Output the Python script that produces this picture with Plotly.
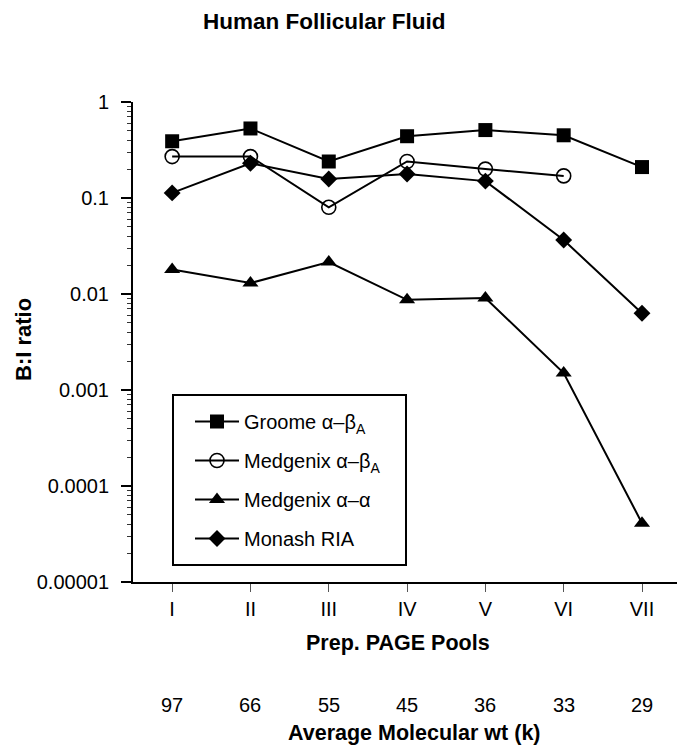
import plotly.graph_objects as go

pools = ["I", "II", "III", "IV", "V", "VI", "VII"]
mol_wt = ["97", "66", "55", "45", "36", "33", "29"]

groome_ab = [0.39, 0.53, 0.24, 0.44, 0.51, 0.45, 0.21]
medgenix_ab = [0.27, 0.27, 0.08, 0.24, 0.20, 0.17, None]
medgenix_aa = [0.018, 0.013, 0.0215, 0.0087, 0.0091, 0.0015, 0.000041]
monash_ria = [0.113, 0.23, 0.158, 0.178, 0.15, 0.0365, 0.0063]

y_tickvals = [1e-5, 1e-4, 1e-3, 1e-2, 1e-1, 1]
y_ticktext = ["0.00001", "0.0001", "0.001", "0.01", "0.1", "1"]

FONT = "Liberation Sans, Arial, Helvetica, sans-serif"

series = [
    ("Groome α–β<sub>A</sub>", groome_ab, dict(symbol="square", size=14, color="black")),
    ("Medgenix α–β<sub>A</sub>", medgenix_ab,
     dict(symbol="circle-open", size=14, color="black", line=dict(width=1.6, color="black"))),
    ("Medgenix α–α", medgenix_aa, dict(symbol="triangle-up", size=14, color="black")),
    ("Monash RIA", monash_ria, dict(symbol="diamond", size=13, color="black")),
]

fig = go.Figure()
for i, (name, vals, mk) in enumerate(series):
    fig.add_trace(go.Scatter(
        x=pools, y=vals, name=name, mode="lines+markers",
        line=dict(color="black", width=2), marker=mk,
        legendgroup="g%d" % i, connectgaps=False,
    ))

W, H = 677, 746
L, R, T, Bm = 133, 0, 102, 164

fig.update_layout(
    width=W, height=H,
    margin=dict(l=L, r=R, t=T, b=Bm),
    paper_bgcolor="white", plot_bgcolor="white",
    font=dict(family=FONT, color="black", size=20),
    showlegend=True,
    legend=dict(
        x=(190 - L) / 544, y=(582 - 402) / 480, xanchor="left", yanchor="top",
        bgcolor="rgba(0,0,0,0)", borderwidth=0,
        font=dict(size=20, family=FONT), tracegroupgap=10, itemwidth=44,
    ),
    xaxis=dict(
        type="category", range=[-0.5, 6.447],
        showline=True, linecolor="black", linewidth=2,
        ticks="outside", ticklen=8, tickwidth=1, tickcolor="#555",
        showgrid=False, zeroline=False,
        tickfont=dict(size=20),
    ),
    yaxis=dict(
        type="log", range=[-5, 0],
        showline=True, linecolor="black", linewidth=2,
        tickmode="array", tickvals=y_tickvals, ticktext=y_ticktext,
        ticks="outside", ticklen=10, tickwidth=1.5, tickcolor="black",
        ticklabelstandoff=8,
        minor=dict(ticks="outside", ticklen=4, tickwidth=1, tickcolor="#333", dtick="D1", showgrid=False),
        showgrid=False, zeroline=False,
        tickfont=dict(size=20),
    ),
    shapes=[dict(
        type="rect", xref="paper", yref="paper",
        x0=(173 - L) / 544, x1=(406 - L) / 544,
        y0=(582 - 565) / 480, y1=(582 - 395) / 480,
        line=dict(color="black", width=2), fillcolor="rgba(0,0,0,0)",
    )],
)

ann = [
    dict(text="<b>Human Follicular Fluid</b>", x=(324 - L) / 544, y=(582 - 22) / 480,
         font=dict(size=22.5)),
    dict(text="<b>B:I ratio</b>", x=(23 - L) / 544, y=(582 - 340) / 480, textangle=-90,
         font=dict(size=22)),
    dict(text="<b>Prep. PAGE Pools</b>", x=(398 - L) / 544, y=(582 - 643) / 480,
         font=dict(size=21.5)),
    dict(text="<b>Average Molecular wt (k)</b>", x=(414 - L) / 544, y=(582 - 733) / 480,
         font=dict(size=21.5)),
]
for a in ann:
    a.update(xref="paper", yref="paper", showarrow=False, xanchor="center", yanchor="middle")
    fig.add_annotation(**a)

for p, m in zip(pools, mol_wt):
    fig.add_annotation(text=m, x=p, xref="x", y=(582 - 705) / 480, yref="paper",
                       showarrow=False, xanchor="center", yanchor="middle", font=dict(size=20))

fig.write_html("out.html")
